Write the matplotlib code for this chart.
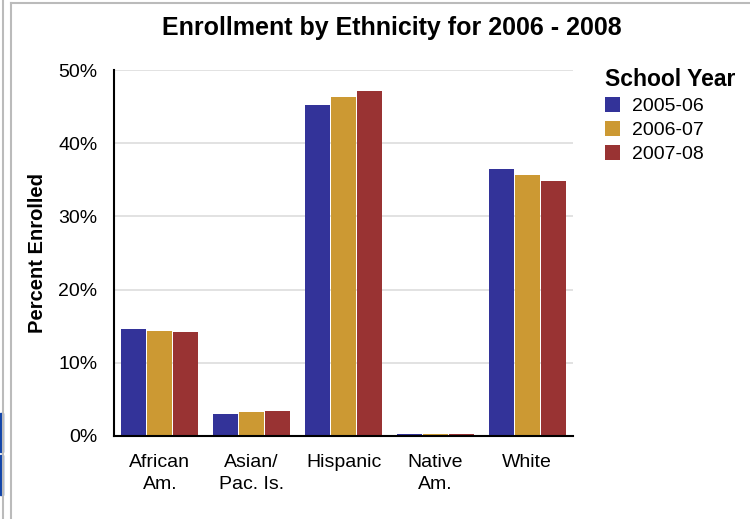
import numpy as np
import matplotlib.pyplot as plt
from matplotlib.lines import Line2D
from matplotlib.patches import Rectangle

plt.rcParams['font.family'] = ['Liberation Sans', 'DejaVu Sans']

# Data
categories = ['African\nAm.', 'Asian/\nPac. Is.', 'Hispanic', 'Native\nAm.', 'White']
years = ['2005-06', '2006-07', '2007-08']
y2005 = [14.6, 3.0, 45.2, 0.3, 36.5]
y2006 = [14.4, 3.3, 46.3, 0.3, 35.7]
y2007 = [14.2, 3.4, 47.1, 0.3, 34.8]
colors = ['#333399', '#cc9933', '#993333']

fig = plt.figure(figsize=(7.5, 5.19), dpi=100)
ax = fig.add_axes([0.152, 0.160, 0.612, 0.705])

x = np.arange(len(categories))
step = 0.283
for i, vals in enumerate([y2005, y2006, y2007]):
    ax.bar(x + (i - 1) * step, vals, width=0.272, color=colors[i],
           label=years[i], zorder=3)

ax.set_xlim(-0.5, len(categories) - 0.5)
ax.set_ylim(0, 50)
ax.set_yticks([0, 10, 20, 30, 40, 50])
ax.set_yticklabels(['0%', '10%', '20%', '30%', '40%', '50%'])
ax.set_xticks(x)
ax.set_xticklabels(categories, linespacing=1.35)
ax.tick_params(axis='both', length=0, labelsize=14, colors='black')
ax.tick_params(axis='y', pad=12)
ax.tick_params(axis='x', pad=13)
ax.grid(axis='y', color='#dddddd', linewidth=1.2, zorder=0)
for s in ['top', 'right']:
    ax.spines[s].set_visible(False)
ax.spines['left'].set_linewidth(1.5)
ax.spines['bottom'].set_linewidth(1.5)
ax.spines['bottom'].set_zorder(4)
ax.set_ylabel('Percent Enrolled', fontsize=14.5, fontweight='bold', labelpad=8)

fig.text(0.522, 0.946, 'Enrollment by Ethnicity for 2006 - 2008', ha='center',
         va='center', fontsize=18, fontweight='bold')

leg = fig.legend(loc='upper left', bbox_to_anchor=(0.796, 0.884), frameon=False,
                 fontsize=14, title='School Year',
                 title_fontproperties={'weight': 'bold', 'size': 16.5},
                 handlelength=0.8, handleheight=0.8, handletextpad=0.6,
                 labelspacing=0.3, borderaxespad=0)
leg._legend_box.align = 'left'

# page borders from the screenshot
fig.add_artist(Line2D([0.004, 0.004], [0, 1], color='#bbbbbb', lw=1.5))
fig.add_artist(Line2D([0.015, 0.015], [0, 0.995], color='#bbbbbb', lw=1.5))
fig.add_artist(Line2D([0.015, 1], [0.995, 0.995], color='#bbbbbb', lw=1.5))
fig.add_artist(Rectangle((0, 1 - 452 / 519), 0.004, 39 / 519, color='#1144aa'))
fig.add_artist(Rectangle((0, 1 - 495 / 519), 0.004, 40 / 519, color='#1144aa'))

fig.savefig('out.png', dpi=100)
